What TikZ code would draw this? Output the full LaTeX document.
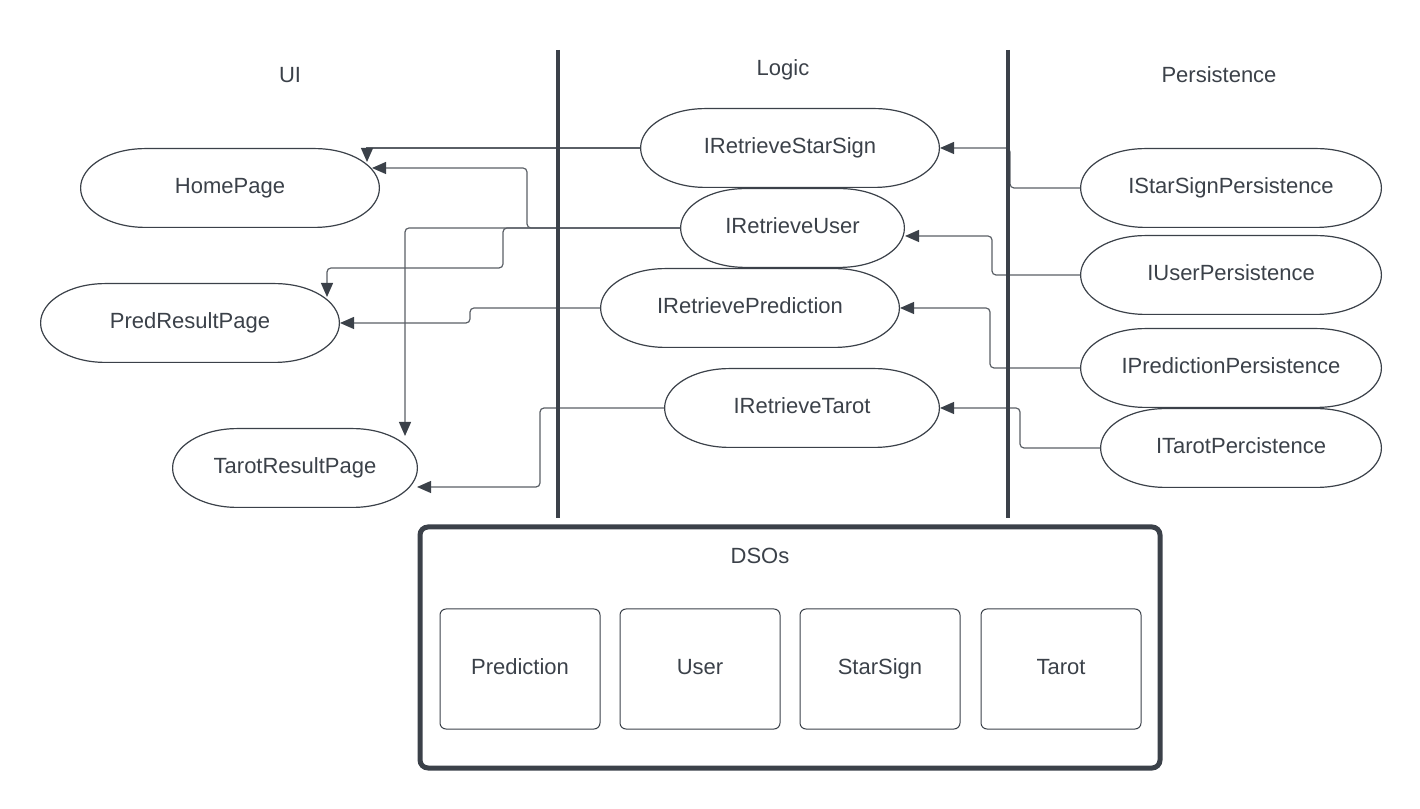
\documentclass[tikz,border=0pt]{standalone}
\usepackage{fontspec}
\setmainfont{Liberation Sans}
\usetikzlibrary{calc,arrows.meta}
\definecolor{ink}{HTML}{3B4149}
\definecolor{wire}{HTML}{5A5F66}

\begin{document}
\begin{tikzpicture}[x=1pt,y=1pt,
    every node/.style={font=\fontsize{22}{26}\selectfont,text=ink,text height=16pt,text depth=5pt},
    term/.style={minimum height=80pt,inner sep=0pt,outer sep=0pt,path picture={
      \draw[ink,line width=1.2pt]
        ([xshift=65pt,yshift=-0.6pt]path picture bounding box.north west)
        -- ([xshift=-65pt,yshift=-0.6pt]path picture bounding box.north east)
        arc[start angle=90,end angle=-90,x radius=64.4pt,y radius=39.4pt]
        -- ([xshift=65pt,yshift=0.6pt]path picture bounding box.south west)
        arc[start angle=270,end angle=90,x radius=64.4pt,y radius=39.4pt] -- cycle;}},
    dso/.style={draw=ink,line width=1pt,rounded corners=6pt,minimum width=160pt,minimum height=120pt},
    conn/.style={wire,line width=1.2pt,rounded corners=4pt,-{Triangle[length=14pt,width=12pt,color=ink]}},
    wall/.style={ink,line width=4pt}]
  \useasboundingbox (0,0) rectangle (1420,808);
  \node (ui) at (290,731) {UI};
  \node (logic) at (783,738) {Logic};
  \node (persist) at (1219,731) {Persistence};
  \node[term,minimum width=300pt] (home) at (230,620) {HomePage};
  \node[term,minimum width=300pt] (predres) at (190,485) {PredResultPage};
  \node[term,minimum width=246pt] (tarotres) at (295,340) {TarotResultPage};
  \node[term,minimum width=300pt] (rstar) at (790,660) {IRetrieveStarSign};
  \node[term,minimum width=225pt] (ruser) at (792.5,580) {IRetrieveUser};
  \node[term,minimum width=300pt] (rpred) at (750,500) {IRetrievePrediction};
  \node[term,minimum width=276pt] (rtarot) at (802,400) {IRetrieveTarot};
  \node[term,minimum width=302pt] (pstar) at (1231,620) {IStarSignPersistence};
  \node[term,minimum width=302pt] (puser) at (1231,533) {IUserPersistence};
  \node[term,minimum width=302pt] (ppred) at (1231,440) {IPredictionPersistence};
  \node[term,minimum width=282pt] (ptarot) at (1241,360) {ITarotPercistence};
  \draw[conn,rounded corners=0pt] (rstar.west) -| ($(home.north east)+(-13,-14)$);
  \draw[conn] (ruser.west) -- ++(-153,0) |- ($(home.east)+(-8,20)$);
  \draw[conn] (ruser.west) -| ($(tarotres.north east)+(-13,-8)$);
  \draw[conn] (ruser.west) -- ++(-177,0) -- ++(0,-40) -| ($(predres.north east)+(-13,-14)$);
  \draw[conn] (rpred.west) -- ++(-130,0) |- (predres.east);
  \draw[conn] (rtarot.west) -- ++(-124,0) |- ($(tarotres.east)+(-1,-19)$);
  \draw[conn] (pstar.west) -- ++(-70,0) |- (rstar.east);
  \draw[conn] (puser.west) -- ++(-88,0) |- ($(ruser.east)+(0,-8)$);
  \draw[conn] (ppred.west) -- ++(-90,0) |- (rpred.east);
  \draw[conn] (ptarot.west) -- ++(-80,0) |- (rtarot.east);
  \draw[wall] (558,758) -- (558,290);
  \draw[wall] (1008,758) -- (1008,290);
  \node[draw=ink,line width=5pt,rounded corners=8pt,minimum width=740pt,minimum height=241pt] (dsobox) at (790,160.5) {};
  \node (dsos) at (760,250) {DSOs};
  \node[dso] (dpred) at (520,139) {Prediction};
  \node[dso] (duser) at (700,139) {User};
  \node[dso] (dstar) at (880,139) {StarSign};
  \node[dso] (dtarot) at (1061,139) {Tarot};
\end{tikzpicture}
\end{document}
